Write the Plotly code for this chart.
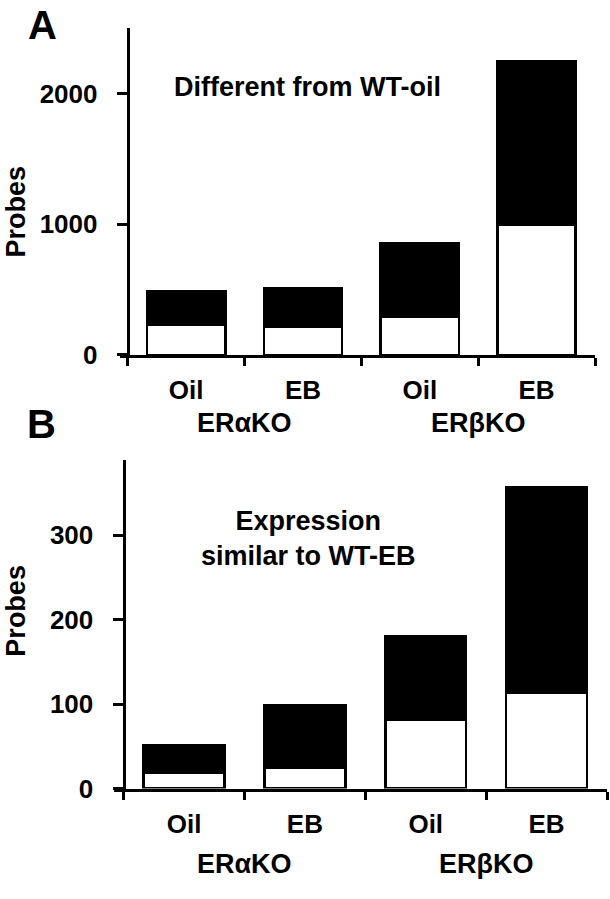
"""Stacked probe counts for ERaKO / ERbKO, two panels (A, B)."""

import plotly.graph_objects as go

W, H = 610, 899

treatments = ["Oil", "EB", "Oil", "EB"]
genotypes = ["ER\u03b1KO", "ER\u03b2KO"]

# panel A: different from WT-oil
a_white = [231, 214, 295, 995]
a_black = [254, 297, 562, 1255]

# panel B: expression similar to WT-EB
b_white = [19, 25, 81, 114]
b_black = [32, 74, 100, 243]

BOLD = dict(family="Arial, Liberation Sans", color="black", weight="bold")


def px_x(v):
    return v / W


def px_y(v):
    return (H - v) / H


fig = go.Figure()
xs = [0, 1, 2, 3]
for xa, ya, white, black in (("x", "y", a_white, a_black), ("x2", "y2", b_white, b_black)):
    fig.add_trace(go.Bar(x=xs, y=white, xaxis=xa, yaxis=ya, width=0.67,
                         marker=dict(color="white", line=dict(color="black", width=2.5))))
    fig.add_trace(go.Bar(x=xs, y=black, xaxis=xa, yaxis=ya, width=0.67,
                         marker=dict(color="black", line=dict(color="black", width=2.5))))


def xaxis_cfg(domain, rng, anchor):
    return dict(
        domain=domain, range=rng, anchor=anchor,
        showline=True, linewidth=3, linecolor="black",
        showgrid=False, zeroline=False,
        tickmode="array", tickvals=xs, ticktext=treatments,
        ticks="", ticklabelstandoff=10,
        tickfont=dict(size=26, **BOLD),
        minor=dict(tickmode="array", tickvals=[-0.5, 0.5, 1.5, 2.5, 3.5],
                   ticks="outside", ticklen=8, tickwidth=3, tickcolor="black"),
    )


def yaxis_cfg(domain, rng, pos, dtick):
    return dict(
        domain=domain, range=rng, anchor="free", position=pos,
        showline=True, linewidth=3, linecolor="black",
        showgrid=False, zeroline=False,
        dtick=dtick, ticks="outside", ticklen=10, tickwidth=3, tickcolor="black",
        ticklabelstandoff=14,
        tickfont=dict(size=26, **BOLD),
    )


fig.update_layout(
    width=W, height=H,
    autosize=False,
    margin=dict(l=0, r=0, t=0, b=0),
    barmode="stack",
    showlegend=False,
    plot_bgcolor="white",
    paper_bgcolor="white",
    xaxis=xaxis_cfg([px_x(120), px_x(595)], [-0.566, 3.5], "y"),
    yaxis=yaxis_cfg([px_y(361), px_y(28)], [0, 2507], px_x(127.7), 1000),
    xaxis2=xaxis_cfg([px_x(114), px_x(607)], [-0.58, 3.5], "y2"),
    yaxis2=yaxis_cfg([px_y(802), px_y(468)], [0, 389], px_x(123.5), 100),
)

notes = [
    dict(text="A", x=px_x(42), y=px_y(25), size=40),
    dict(text="B", x=px_x(41), y=px_y(431), size=40),
    dict(text="Different from WT-oil", x=px_x(307), y=px_y(88), size=27),
    dict(text="Expression<br>similar to WT-EB", x=px_x(308), y=px_y(548), size=27),
]
for n in notes:
    fig.add_annotation(text=n["text"], x=n["x"], y=n["y"], xref="paper", yref="paper",
                       xanchor="center", yanchor="middle",
                       showarrow=False, font=dict(size=n["size"], **BOLD))

for yc in (215, 621):
    fig.add_annotation(text="Probes", x=px_x(16), y=px_y(yc), xref="paper", yref="paper",
                       xanchor="center", yanchor="middle",
                       textangle=-90, showarrow=False, font=dict(size=27, **BOLD))

for xa, yc in (("x", 430), ("x2", 879)):
    for i, g in enumerate(genotypes):
        fig.add_annotation(text=g, x=0.5 + 2 * i, xref=xa, y=px_y(yc), yref="paper",
                           xanchor="center", yanchor="middle",
                           showarrow=False, font=dict(size=27, **BOLD))

# pin the graph to the page corner (no body margin)
pin = (
    "document.body.style.margin='0';"
    "var gd=document.getElementById('{plot_id}');"
    "gd.style.position='absolute';gd.style.top='0px';gd.style.left='0px';"
)
fig.write_html(
    "out.html",
    config={"displayModeBar": False, "responsive": False},
    post_script=pin,
)
